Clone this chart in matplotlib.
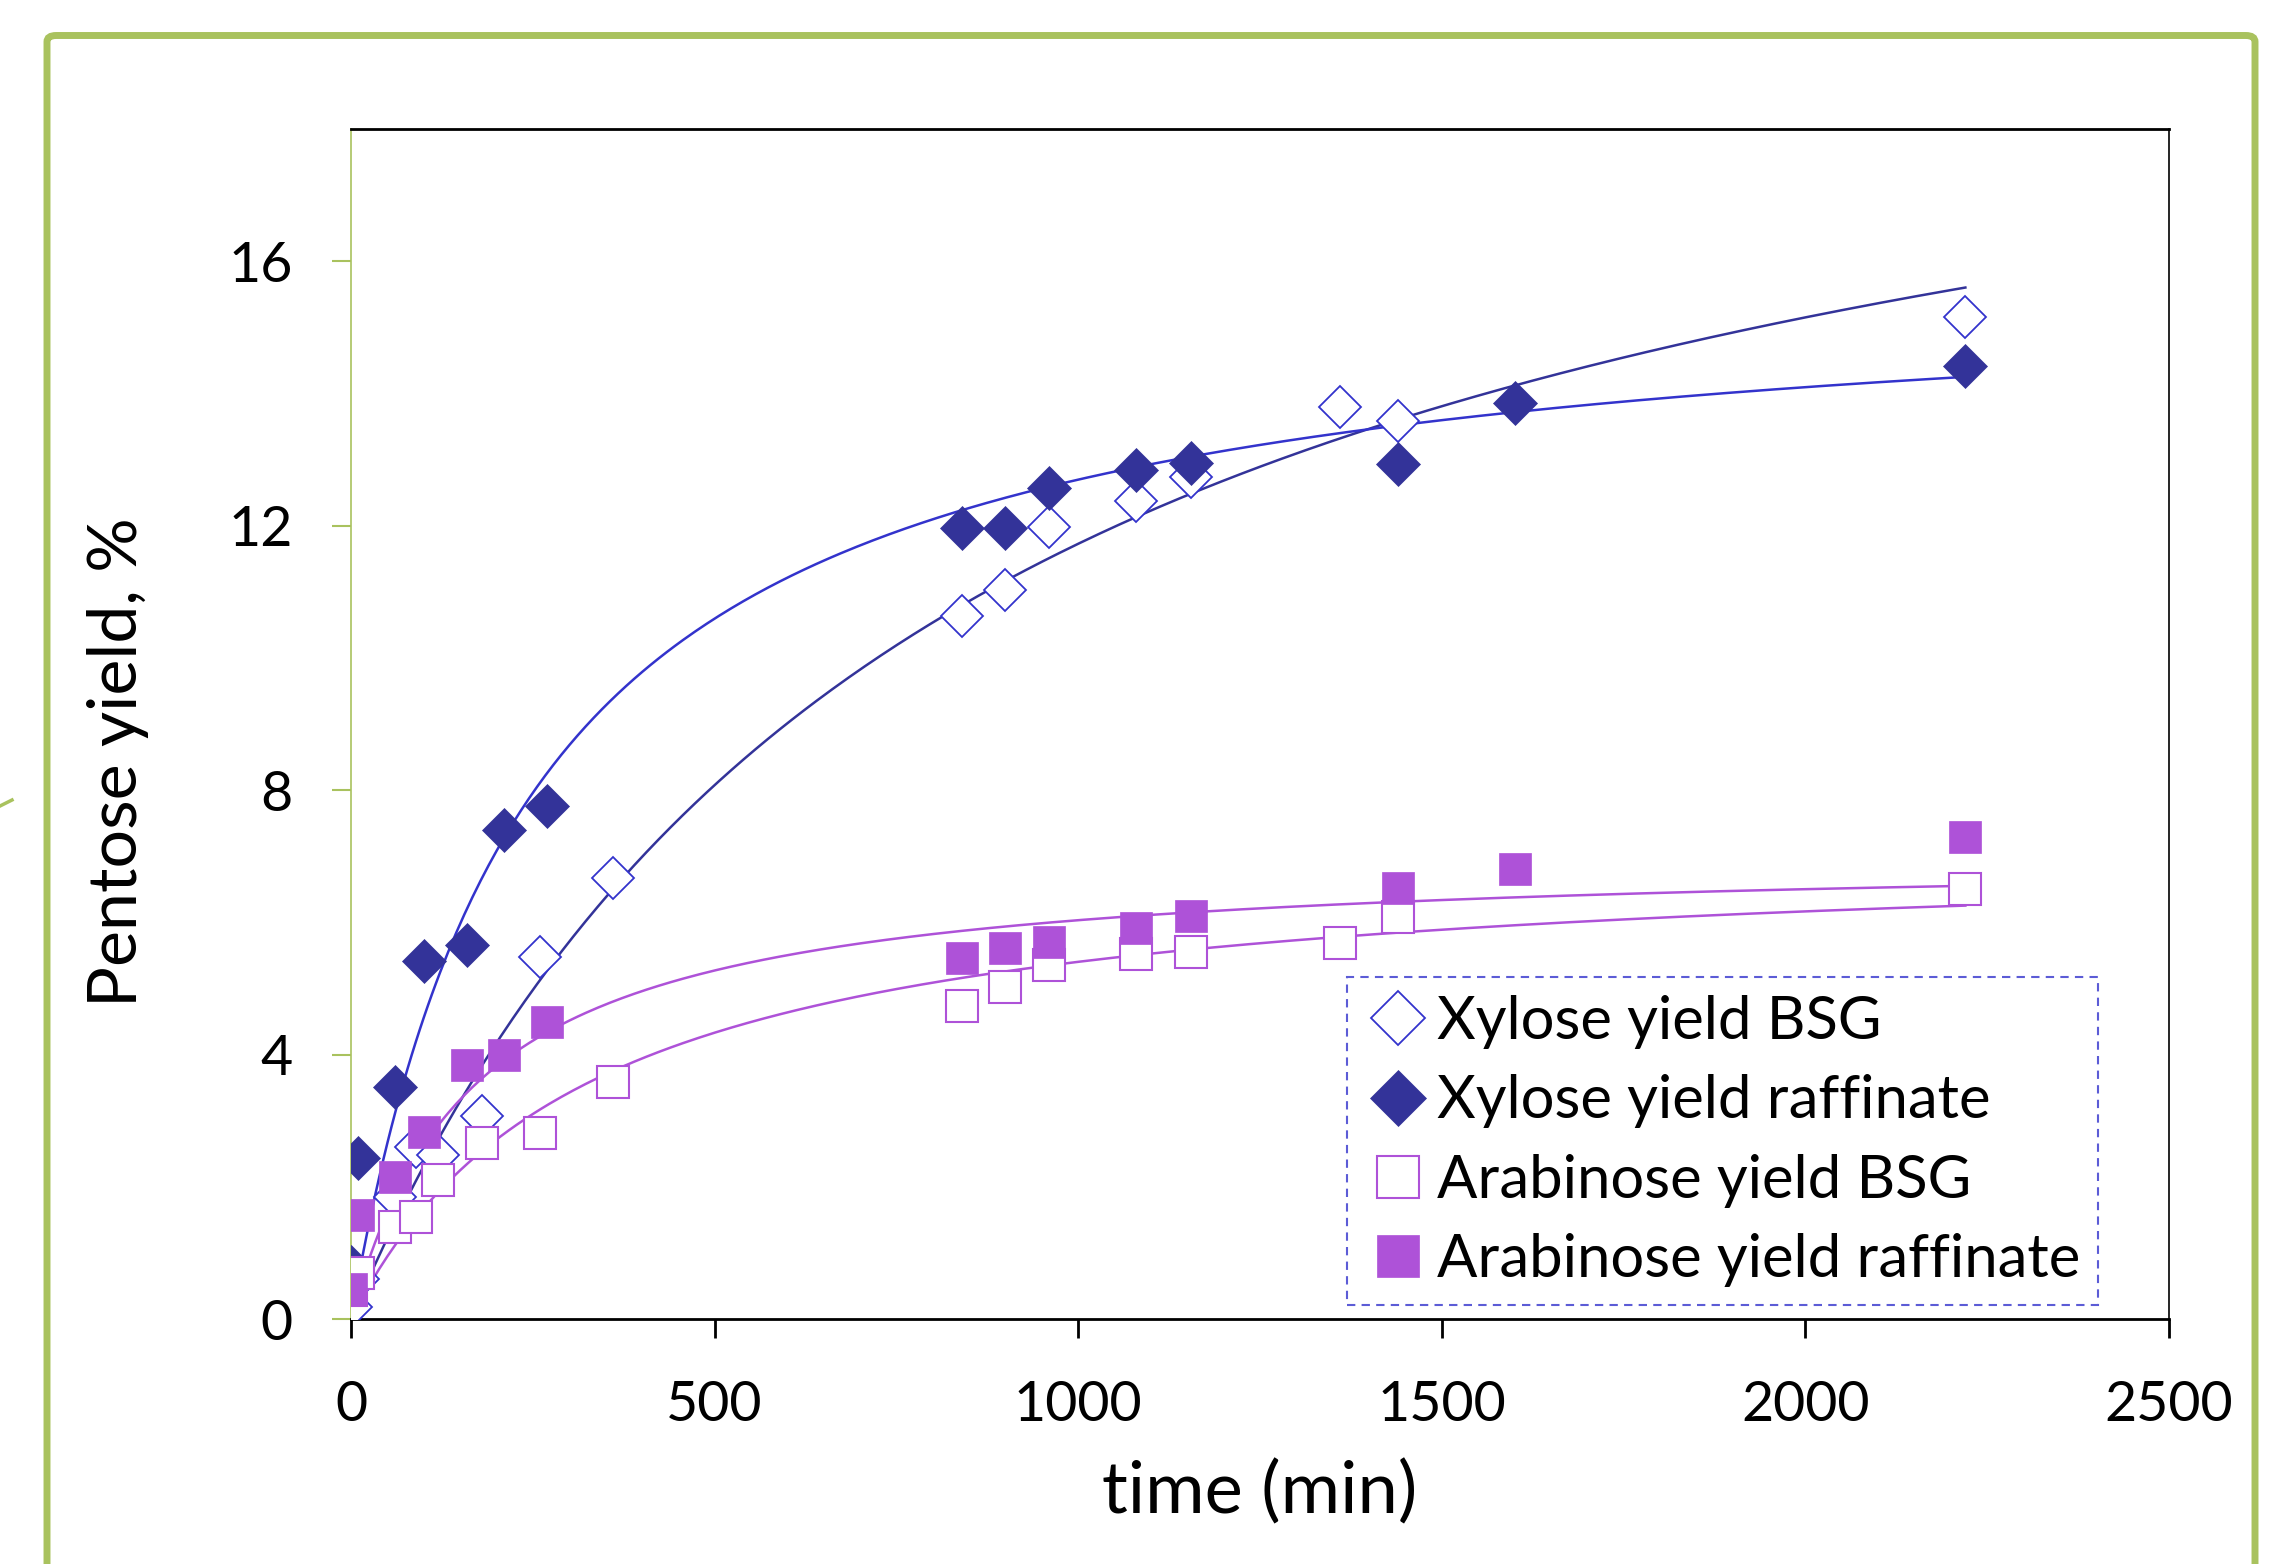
import numpy as np
import matplotlib
matplotlib.use('Agg')
import matplotlib.pyplot as plt
from matplotlib.patches import FancyBboxPatch
from matplotlib.lines import Line2D

plt.rcParams['font.family'] = ['Lato', 'DejaVu Sans']

# measured points (time in min, yield in %)
xyl_bsg_t = [0, 10, 60, 90, 120, 180, 260, 360, 840, 900, 960, 1080, 1155, 1360, 1440, 2220]
xyl_bsg_y = [0.18, 0.6, 1.85, 2.6, 2.48, 3.07, 5.48, 6.67, 10.63, 11.03, 11.98, 12.38, 12.73, 13.79, 13.59, 15.16]

xyl_raf_t = [0, 10, 60, 100, 160, 210, 270, 840, 900, 960, 1080, 1155, 1440, 1600, 2220]
xyl_raf_y = [0.79, 2.43, 3.51, 5.41, 5.66, 7.40, 7.76, 11.96, 11.96, 12.57, 12.84, 12.95, 12.93, 13.86, 14.41]

ara_bsg_t = [0, 10, 60, 90, 120, 180, 260, 360, 840, 900, 960, 1080, 1155, 1360, 1440, 2220]
ara_bsg_y = [0.44, 0.69, 1.39, 1.55, 2.11, 2.66, 2.82, 3.59, 4.73, 5.02, 5.35, 5.52, 5.55, 5.68, 6.08, 6.50]

ara_raf_t = [0, 10, 60, 100, 160, 210, 270, 840, 900, 960, 1080, 1155, 1440, 1600, 2220]
ara_raf_y = [0.46, 1.57, 2.15, 2.83, 3.84, 4.00, 4.49, 5.46, 5.61, 5.70, 5.92, 6.10, 6.52, 6.81, 7.29]

# saturation fit parameters: y = ymax * t / (k + t)
fit_xyl_bsg = (21.4, 825.0)
fit_xyl_raf = (15.84, 247.6)
fit_ara_bsg = (7.18, 329.0)
fit_ara_raf = (7.05, 168.7)
t_end = 2220

navy = '#333399'
blue = '#3333CC'
purple = '#AE52D8'
green = '#A9C25E'

W, H = 2290, 1564
fig = plt.figure(figsize=(W / 100, H / 100), dpi=100)

# outer green frame (runs off the bottom of the picture)
frame = FancyBboxPatch((47 / W, -0.05), (2255 - 47) / W, 1.05 - 35.5 / H,
                       boxstyle='round,pad=0,rounding_size=0.004',
                       transform=fig.transFigure, fill=False,
                       edgecolor=green, linewidth=5.0, zorder=0)
fig.patches.append(frame)
fig.add_artist(Line2D([0, 12 / W], [1 - 806 / H, 1 - 800 / H], color=green, lw=2.5,
                      transform=fig.transFigure))

ax = fig.add_axes([351 / W, 1 - 1319 / H, 1818 / W, 1190 / H])

tt = np.linspace(0, t_end, 400)
def sat(p):
    return p[0] * tt / (p[1] + tt)

ax.plot(tt, sat(fit_xyl_bsg), color=navy, lw=1.8, zorder=2)
ax.plot(tt, sat(fit_xyl_raf), color=blue, lw=1.8, zorder=2)
ax.plot(tt, sat(fit_ara_bsg), color=purple, lw=1.8, zorder=2)
ax.plot(tt, sat(fit_ara_raf), color=purple, lw=1.8, zorder=2)

ax.plot(xyl_bsg_t, xyl_bsg_y, 'D', ms=21, mfc='white', mec=blue, mew=1.3,
        ls='none', label='Xylose yield BSG', zorder=3)
ax.plot(xyl_raf_t, xyl_raf_y, 'D', ms=22, mfc=navy, mec=navy, mew=0.5,
        ls='none', label='Xylose yield raffinate', zorder=3)
ax.plot(ara_bsg_t, ara_bsg_y, 's', ms=23, mfc='white', mec=purple, mew=1.5,
        ls='none', label='Arabinose yield BSG', zorder=3)
ax.plot(ara_raf_t, ara_raf_y, 's', ms=23.5, mfc=purple, mec=purple, mew=0.5,
        ls='none', label='Arabinose yield raffinate', zorder=3)

ax.set_xlim(0, 2500)
ax.set_ylim(0, 18)
ax.set_xticks([0, 500, 1000, 1500, 2000, 2500])
ax.set_yticks([0, 4, 8, 12, 16])

ax.spines['left'].set_color(green)
ax.spines['left'].set_linewidth(1.2)
ax.spines['bottom'].set_linewidth(2.0)
ax.spines['top'].set_linewidth(2.0)
ax.spines['right'].set_linewidth(1.2)

ax.tick_params(axis='y', direction='out', length=14, width=1.5, color=green,
               labelsize=40, pad=28)
ax.tick_params(axis='x', direction='out', length=14, width=2.0, color='black',
               labelsize=40, pad=30)

ax.set_xlabel('time (min)', fontsize=52)
ax.set_ylabel('Pentose yield, %', fontsize=49)
ax.xaxis.set_label_coords(0.5, -0.146)
ax.yaxis.set_label_coords(-0.128, 0.468)
ax.xaxis.label.set_va('center')
ax.yaxis.label.set_va('center')

leg = ax.legend(loc='upper left', bbox_to_anchor=(0.548, 0.287), fontsize=43,
                frameon=True, fancybox=False, borderpad=0.3, labelspacing=0.42,
                handletextpad=0.1, handlelength=1.1, borderaxespad=0,
                markerscale=1.3)
fr = leg.get_frame()
fr.set_edgecolor(blue)
fr.set_linestyle((0, (4, 3)))
fr.set_linewidth(1.5)

fig.savefig('out.png', dpi=100)
